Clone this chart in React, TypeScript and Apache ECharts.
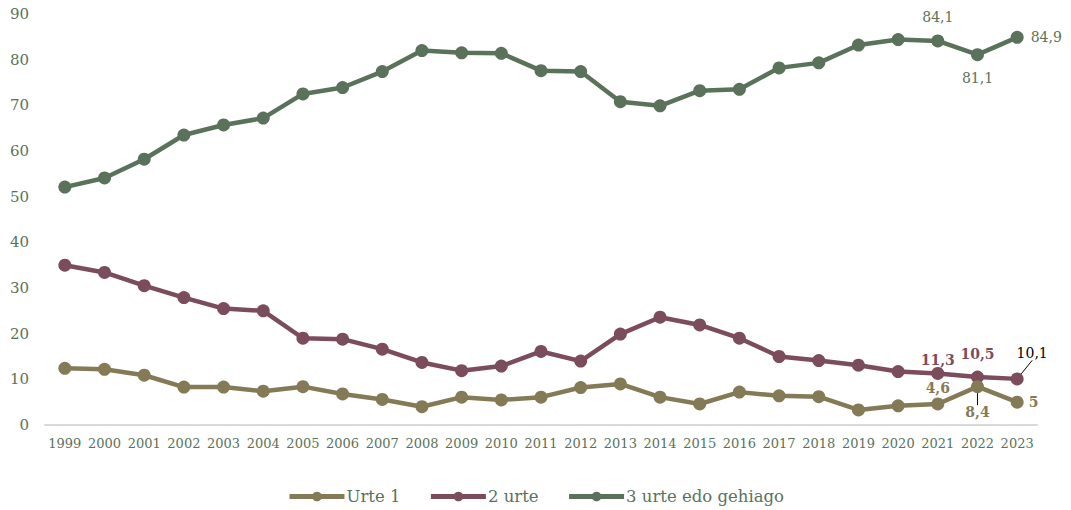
import React, { useEffect, useRef } from "react";
import * as echarts from "echarts";

const years = ["1999","2000","2001","2002","2003","2004","2005","2006","2007","2008","2009","2010","2011","2012","2013","2014","2015","2016","2017","2018","2019","2020","2021","2022","2023"];
const urte1 = [12.4,12.2,10.9,8.3,8.3,7.4,8.4,6.8,5.6,4.0,6.1,5.5,6.1,8.2,9.0,6.1,4.6,7.2,6.4,6.2,3.3,4.2,4.6,8.4,5];
const urte2 = [35.0,33.4,30.5,27.9,25.5,25.0,19.0,18.8,16.6,13.7,11.9,12.9,16.1,14.0,19.9,23.6,21.9,19.0,15.0,14.1,13.1,11.7,11.3,10.5,10.1];
const urte3 = [52.1,54.1,58.2,63.5,65.7,67.2,72.5,73.9,77.4,82.0,81.5,81.4,77.6,77.4,70.8,69.9,73.2,73.5,78.2,79.3,83.2,84.4,84.1,81.1,84.9];
const seriesNames = ["Urte 1", "2 urte", "3 urte edo gehiago"];
const yTicks = { min: 0, max: 90, interval: 10 };

const OLIVE = "#857a56";
const RED = "#7b4c5c";
const GREEN = "#5a725a";
const FONT = "DejaVu Serif";

type LabelCfg = { position: string; distance: number; offset?: number[]; color?: string; bold?: boolean; leader?: boolean };

function buildData(values: number[], color: string, labels: Record<number, LabelCfg>) {
  return values.map((v, i) => {
    const l = labels[i];
    if (!l) return v;
    return {
      value: v,
      label: {
        show: true,
        position: l.position,
        distance: l.distance,
        offset: l.offset || [0, 0],
        color: l.color || color,
        fontFamily: FONT,
        fontSize: 14,
        fontWeight: l.bold ? 600 : "normal",
        formatter: (p: any) => String(p.value).replace(".", ","),
      },
      labelLine: { show: !!l.leader, lineStyle: { color: "#000", width: 1 } },
    };
  });
}

export default function App() {
  const ref = useRef<HTMLDivElement>(null);
  useEffect(() => {
    document.body.style.margin = "0";
    const chart = echarts.init(ref.current!, null, { renderer: "svg" });
    const common = {
      type: "line",
      symbol: "circle",
      symbolSize: 13,
      lineStyle: { width: 4.5 },
      emphasis: { disabled: true },
      labelLine: { show: false },
    };
    chart.setOption({
      animation: false,
      grid: { left: 45, right: 34, top: 14, bottom: 85, containLabel: false },
      legend: {
        bottom: 0,
        left: "center",
        itemWidth: 55,
        itemHeight: 12,
        itemGap: 28,
        lineStyle: { width: 5 },
        textStyle: { fontFamily: FONT, fontSize: 16.5, color: GREEN, padding: [0, 0, 0, -3] },
        data: seriesNames,
      },
      xAxis: {
        type: "category",
        data: years,
        boundaryGap: true,
        axisLine: { lineStyle: { color: "#d9d9d9", width: 2 } },
        axisTick: { show: false },
        axisLabel: { fontFamily: FONT, fontSize: 13, color: GREEN, margin: 12, interval: 0 },
      },
      yAxis: {
        type: "value",
        min: yTicks.min,
        max: yTicks.max,
        interval: yTicks.interval,
        splitLine: { show: false },
        axisLine: { show: false },
        axisTick: { show: false },
        axisLabel: { fontFamily: FONT, fontSize: 15, color: GREEN, margin: 16 },
      },
      series: [
        {
          ...common,
          name: seriesNames[0],
          color: OLIVE,
          data: buildData(urte1, OLIVE, {
            22: { position: "top", distance: 2, offset: [-5, 0], bold: true },
            23: { position: "bottom", distance: 3, bold: true, leader: true },
            24: { position: "right", distance: 5, bold: true },
          }),
          labelLayout: (p: any) => (p.dataIndex === 23 ? { dy: 9 } : {}),
          z: 3,
        },
        {
          ...common,
          name: seriesNames[1],
          color: RED,
          data: buildData(urte2, RED, {
            22: { position: "top", distance: 0, offset: [-8, 0], bold: true },
            23: { position: "top", distance: 10, bold: true },
            24: { position: "top", distance: 2, color: "#000", leader: true },
          }),
          labelLayout: (p: any) => (p.dataIndex === 24 ? { dx: 15, dy: -10 } : {}),
          z: 2,
        },
        {
          ...common,
          name: seriesNames[2],
          color: GREEN,
          data: buildData(urte3, GREEN, {
            22: { position: "top", distance: 10 },
            23: { position: "bottom", distance: 10 },
            24: { position: "right", distance: 7 },
          }),
          z: 1,
        },
      ],
    });
    return () => chart.dispose();
  }, []);
  return <div ref={ref} style={{ width: 1071, height: 510 }} />;
}
